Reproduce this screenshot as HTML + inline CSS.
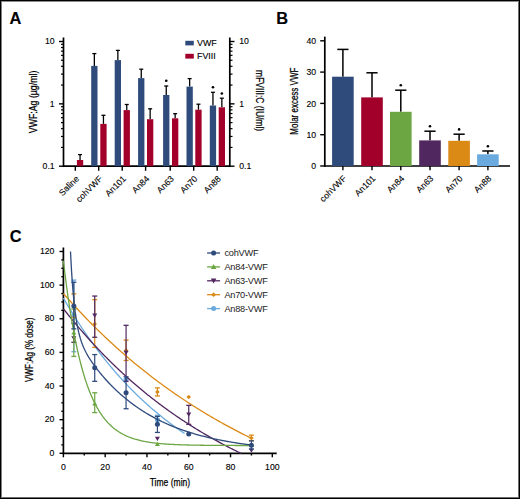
<!DOCTYPE html>
<html><head><meta charset="utf-8"><style>
html,body{margin:0;padding:0;background:#fff;}
body{width:520px;height:499px;overflow:hidden;}
.fr{position:absolute;left:0;top:0;width:520px;height:499px;box-sizing:border-box;border:1px solid #000;box-shadow:inset 1px 0 0 #808080,inset 0 1px 0 #8c8c8c,inset -1px 0 0 #6e6e6e,inset 0 -1px 0 #6e6e6e;}
svg{position:absolute;left:0;top:0;}
text{font-family:"Liberation Sans",sans-serif;fill:#000;stroke:#000;stroke-width:0.12px;}
.t{fill:#000;stroke:#000;stroke-width:0.25px;}
</style></head><body>
<svg width="520" height="499" viewBox="0 0 520 499">
<text x="9.6" y="23.9" font-size="16.4" font-weight="bold" fill="#000">A</text>
<line x1="63.50" y1="37.50" x2="63.50" y2="167.05" stroke="#000" stroke-width="1.7"/>
<line x1="63.50" y1="166.20" x2="229.80" y2="166.20" stroke="#000" stroke-width="1.7"/>
<line x1="229.80" y1="37.50" x2="229.80" y2="167.05" stroke="#000" stroke-width="1.7"/>
<line x1="59.00" y1="41.50" x2="63.50" y2="41.50" stroke="#000" stroke-width="1.4"/>
<line x1="229.80" y1="41.50" x2="234.50" y2="41.50" stroke="#000" stroke-width="1.4"/>
<line x1="59.00" y1="103.85" x2="63.50" y2="103.85" stroke="#000" stroke-width="1.4"/>
<line x1="229.80" y1="103.85" x2="234.50" y2="103.85" stroke="#000" stroke-width="1.4"/>
<line x1="59.00" y1="166.20" x2="63.50" y2="166.20" stroke="#000" stroke-width="1.4"/>
<line x1="229.80" y1="166.20" x2="234.50" y2="166.20" stroke="#000" stroke-width="1.4"/>
<line x1="61.00" y1="85.08" x2="63.50" y2="85.08" stroke="#000" stroke-width="1.2"/>
<line x1="229.80" y1="85.08" x2="232.50" y2="85.08" stroke="#000" stroke-width="1.2"/>
<line x1="61.00" y1="74.10" x2="63.50" y2="74.10" stroke="#000" stroke-width="1.2"/>
<line x1="229.80" y1="74.10" x2="232.50" y2="74.10" stroke="#000" stroke-width="1.2"/>
<line x1="61.00" y1="66.31" x2="63.50" y2="66.31" stroke="#000" stroke-width="1.2"/>
<line x1="229.80" y1="66.31" x2="232.50" y2="66.31" stroke="#000" stroke-width="1.2"/>
<line x1="61.00" y1="60.27" x2="63.50" y2="60.27" stroke="#000" stroke-width="1.2"/>
<line x1="229.80" y1="60.27" x2="232.50" y2="60.27" stroke="#000" stroke-width="1.2"/>
<line x1="61.00" y1="55.33" x2="63.50" y2="55.33" stroke="#000" stroke-width="1.2"/>
<line x1="229.80" y1="55.33" x2="232.50" y2="55.33" stroke="#000" stroke-width="1.2"/>
<line x1="61.00" y1="51.16" x2="63.50" y2="51.16" stroke="#000" stroke-width="1.2"/>
<line x1="229.80" y1="51.16" x2="232.50" y2="51.16" stroke="#000" stroke-width="1.2"/>
<line x1="61.00" y1="47.54" x2="63.50" y2="47.54" stroke="#000" stroke-width="1.2"/>
<line x1="229.80" y1="47.54" x2="232.50" y2="47.54" stroke="#000" stroke-width="1.2"/>
<line x1="61.00" y1="44.35" x2="63.50" y2="44.35" stroke="#000" stroke-width="1.2"/>
<line x1="229.80" y1="44.35" x2="232.50" y2="44.35" stroke="#000" stroke-width="1.2"/>
<line x1="61.00" y1="147.43" x2="63.50" y2="147.43" stroke="#000" stroke-width="1.2"/>
<line x1="229.80" y1="147.43" x2="232.50" y2="147.43" stroke="#000" stroke-width="1.2"/>
<line x1="61.00" y1="136.45" x2="63.50" y2="136.45" stroke="#000" stroke-width="1.2"/>
<line x1="229.80" y1="136.45" x2="232.50" y2="136.45" stroke="#000" stroke-width="1.2"/>
<line x1="61.00" y1="128.66" x2="63.50" y2="128.66" stroke="#000" stroke-width="1.2"/>
<line x1="229.80" y1="128.66" x2="232.50" y2="128.66" stroke="#000" stroke-width="1.2"/>
<line x1="61.00" y1="122.62" x2="63.50" y2="122.62" stroke="#000" stroke-width="1.2"/>
<line x1="229.80" y1="122.62" x2="232.50" y2="122.62" stroke="#000" stroke-width="1.2"/>
<line x1="61.00" y1="117.68" x2="63.50" y2="117.68" stroke="#000" stroke-width="1.2"/>
<line x1="229.80" y1="117.68" x2="232.50" y2="117.68" stroke="#000" stroke-width="1.2"/>
<line x1="61.00" y1="113.51" x2="63.50" y2="113.51" stroke="#000" stroke-width="1.2"/>
<line x1="229.80" y1="113.51" x2="232.50" y2="113.51" stroke="#000" stroke-width="1.2"/>
<line x1="61.00" y1="109.89" x2="63.50" y2="109.89" stroke="#000" stroke-width="1.2"/>
<line x1="229.80" y1="109.89" x2="232.50" y2="109.89" stroke="#000" stroke-width="1.2"/>
<line x1="61.00" y1="106.70" x2="63.50" y2="106.70" stroke="#000" stroke-width="1.2"/>
<line x1="229.80" y1="106.70" x2="232.50" y2="106.70" stroke="#000" stroke-width="1.2"/>
<text x="54.70" y="44.20" font-size="8.7" text-anchor="end" >10</text>
<text x="239.20" y="44.20" font-size="8.7" text-anchor="start" >10</text>
<text x="54.70" y="106.55" font-size="8.7" text-anchor="end" >1</text>
<text x="239.20" y="106.55" font-size="8.7" text-anchor="start" >1</text>
<text x="54.70" y="168.90" font-size="8.7" text-anchor="end" >0.1</text>
<text x="239.20" y="168.90" font-size="8.7" text-anchor="start" >0.1</text>
<line x1="75.30" y1="166.20" x2="75.30" y2="170.80" stroke="#000" stroke-width="1.4"/>
<line x1="98.70" y1="166.20" x2="98.70" y2="170.80" stroke="#000" stroke-width="1.4"/>
<line x1="122.20" y1="166.20" x2="122.20" y2="170.80" stroke="#000" stroke-width="1.4"/>
<line x1="145.60" y1="166.20" x2="145.60" y2="170.80" stroke="#000" stroke-width="1.4"/>
<line x1="170.20" y1="166.20" x2="170.20" y2="170.80" stroke="#000" stroke-width="1.4"/>
<line x1="193.70" y1="166.20" x2="193.70" y2="170.80" stroke="#000" stroke-width="1.4"/>
<line x1="217.20" y1="166.20" x2="217.20" y2="170.80" stroke="#000" stroke-width="1.4"/>
<text x="0" y="0" font-size="8.7" text-anchor="end" transform="translate(79.60,179.3) rotate(-45)">Saline</text>
<text x="0" y="0" font-size="8.7" text-anchor="end" transform="translate(103.00,179.3) rotate(-45)">cohVWF</text>
<text x="0" y="0" font-size="8.7" text-anchor="end" transform="translate(126.50,179.3) rotate(-45)">An101</text>
<text x="0" y="0" font-size="8.7" text-anchor="end" transform="translate(149.90,179.3) rotate(-45)">An84</text>
<text x="0" y="0" font-size="8.7" text-anchor="end" transform="translate(174.50,179.3) rotate(-45)">An63</text>
<text x="0" y="0" font-size="8.7" text-anchor="end" transform="translate(198.00,179.3) rotate(-45)">An70</text>
<text x="0" y="0" font-size="8.7" text-anchor="end" transform="translate(221.50,179.3) rotate(-45)">An88</text>
<line x1="80.05" y1="154.60" x2="80.05" y2="160.00" stroke="#000" stroke-width="1.3"/>
<line x1="78.05" y1="154.60" x2="82.05" y2="154.60" stroke="#000" stroke-width="1.3"/>
<rect x="76.90" y="160.00" width="6.30" height="6.20" fill="#a2002a"/>
<line x1="94.35" y1="53.60" x2="94.35" y2="65.90" stroke="#000" stroke-width="1.3"/>
<line x1="92.35" y1="53.60" x2="96.35" y2="53.60" stroke="#000" stroke-width="1.3"/>
<rect x="91.20" y="65.90" width="6.30" height="100.30" fill="#2e4b7c"/>
<line x1="103.45" y1="115.30" x2="103.45" y2="123.90" stroke="#000" stroke-width="1.3"/>
<line x1="101.45" y1="115.30" x2="105.45" y2="115.30" stroke="#000" stroke-width="1.3"/>
<rect x="100.30" y="123.90" width="6.30" height="42.30" fill="#a2002a"/>
<line x1="117.85" y1="50.40" x2="117.85" y2="60.10" stroke="#000" stroke-width="1.3"/>
<line x1="115.85" y1="50.40" x2="119.85" y2="50.40" stroke="#000" stroke-width="1.3"/>
<rect x="114.70" y="60.10" width="6.30" height="106.10" fill="#2e4b7c"/>
<line x1="126.75" y1="104.50" x2="126.75" y2="110.10" stroke="#000" stroke-width="1.3"/>
<line x1="124.75" y1="104.50" x2="128.75" y2="104.50" stroke="#000" stroke-width="1.3"/>
<rect x="123.60" y="110.10" width="6.30" height="56.10" fill="#a2002a"/>
<line x1="141.25" y1="69.20" x2="141.25" y2="78.10" stroke="#000" stroke-width="1.3"/>
<line x1="139.25" y1="69.20" x2="143.25" y2="69.20" stroke="#000" stroke-width="1.3"/>
<rect x="138.10" y="78.10" width="6.30" height="88.10" fill="#2e4b7c"/>
<line x1="150.15" y1="108.80" x2="150.15" y2="119.20" stroke="#000" stroke-width="1.3"/>
<line x1="148.15" y1="108.80" x2="152.15" y2="108.80" stroke="#000" stroke-width="1.3"/>
<rect x="147.00" y="119.20" width="6.30" height="47.00" fill="#a2002a"/>
<line x1="166.25" y1="86.00" x2="166.25" y2="95.00" stroke="#000" stroke-width="1.3"/>
<line x1="164.25" y1="86.00" x2="168.25" y2="86.00" stroke="#000" stroke-width="1.3"/>
<rect x="163.10" y="95.00" width="6.30" height="71.20" fill="#2e4b7c"/>
<line x1="175.15" y1="113.70" x2="175.15" y2="118.30" stroke="#000" stroke-width="1.3"/>
<line x1="173.15" y1="113.70" x2="177.15" y2="113.70" stroke="#000" stroke-width="1.3"/>
<rect x="172.00" y="118.30" width="6.30" height="47.90" fill="#a2002a"/>
<line x1="189.65" y1="78.60" x2="189.65" y2="86.60" stroke="#000" stroke-width="1.3"/>
<line x1="187.65" y1="78.60" x2="191.65" y2="78.60" stroke="#000" stroke-width="1.3"/>
<rect x="186.50" y="86.60" width="6.30" height="79.60" fill="#2e4b7c"/>
<line x1="198.45" y1="104.20" x2="198.45" y2="109.70" stroke="#000" stroke-width="1.3"/>
<line x1="196.45" y1="104.20" x2="200.45" y2="104.20" stroke="#000" stroke-width="1.3"/>
<rect x="195.30" y="109.70" width="6.30" height="56.50" fill="#a2002a"/>
<line x1="212.95" y1="92.30" x2="212.95" y2="105.50" stroke="#000" stroke-width="1.3"/>
<line x1="210.95" y1="92.30" x2="214.95" y2="92.30" stroke="#000" stroke-width="1.3"/>
<rect x="209.80" y="105.50" width="6.30" height="60.70" fill="#2e4b7c"/>
<line x1="221.85" y1="98.20" x2="221.85" y2="107.30" stroke="#000" stroke-width="1.3"/>
<line x1="219.85" y1="98.20" x2="223.85" y2="98.20" stroke="#000" stroke-width="1.3"/>
<rect x="218.70" y="107.30" width="6.30" height="58.90" fill="#a2002a"/>
<circle cx="166.25" cy="80.80" r="1.3" fill="#000"/>
<circle cx="212.95" cy="87.20" r="1.3" fill="#000"/>
<circle cx="221.85" cy="93.50" r="1.3" fill="#000"/>
<rect x="185.30" y="40.80" width="8.50" height="4.60" fill="#2e4b7c"/>
<text x="197.00" y="45.80" font-size="8.9" text-anchor="start" >VWF</text>
<rect x="185.30" y="53.80" width="8.50" height="4.80" fill="#a2002a"/>
<text x="197.00" y="58.70" font-size="8.9" text-anchor="start" >FVIII</text>
<text class="t" x="0" y="0" font-size="11" text-anchor="middle" textLength="62.5" lengthAdjust="spacingAndGlyphs" transform="translate(37.2,101.9) rotate(-90)">VWF:Ag (µg/ml)</text>
<text class="t" x="0" y="0" font-size="11" text-anchor="middle" textLength="61" lengthAdjust="spacingAndGlyphs" transform="translate(255.9,100.6) rotate(90)">mFVIII:C (IU/ml)</text>
<text x="276.2" y="23.9" font-size="16.4" font-weight="bold" fill="#000">B</text>
<line x1="324.80" y1="36.60" x2="324.80" y2="166.85" stroke="#000" stroke-width="1.7"/>
<line x1="324.80" y1="166.00" x2="510.00" y2="166.00" stroke="#000" stroke-width="1.7"/>
<line x1="320.20" y1="166.00" x2="324.80" y2="166.00" stroke="#000" stroke-width="1.4"/>
<text x="316.20" y="169.10" font-size="8.7" text-anchor="end" >0</text>
<line x1="320.20" y1="134.70" x2="324.80" y2="134.70" stroke="#000" stroke-width="1.4"/>
<text x="316.20" y="137.80" font-size="8.7" text-anchor="end" >10</text>
<line x1="320.20" y1="103.40" x2="324.80" y2="103.40" stroke="#000" stroke-width="1.4"/>
<text x="316.20" y="106.50" font-size="8.7" text-anchor="end" >20</text>
<line x1="320.20" y1="72.10" x2="324.80" y2="72.10" stroke="#000" stroke-width="1.4"/>
<text x="316.20" y="75.20" font-size="8.7" text-anchor="end" >30</text>
<line x1="320.20" y1="40.80" x2="324.80" y2="40.80" stroke="#000" stroke-width="1.4"/>
<text x="316.20" y="43.90" font-size="8.7" text-anchor="end" >40</text>
<line x1="342.90" y1="49.40" x2="342.90" y2="76.70" stroke="#000" stroke-width="1.5"/>
<line x1="337.30" y1="49.40" x2="348.50" y2="49.40" stroke="#000" stroke-width="1.5"/>
<rect x="332.10" y="76.70" width="21.60" height="89.30" fill="#2e4b7c"/>
<line x1="342.90" y1="166.00" x2="342.90" y2="170.30" stroke="#000" stroke-width="1.4"/>
<line x1="372.00" y1="72.80" x2="372.00" y2="97.40" stroke="#000" stroke-width="1.5"/>
<line x1="366.40" y1="72.80" x2="377.60" y2="72.80" stroke="#000" stroke-width="1.5"/>
<rect x="361.20" y="97.40" width="21.60" height="68.60" fill="#a2002a"/>
<line x1="372.00" y1="166.00" x2="372.00" y2="170.30" stroke="#000" stroke-width="1.4"/>
<line x1="400.80" y1="90.20" x2="400.80" y2="111.80" stroke="#000" stroke-width="1.5"/>
<line x1="395.20" y1="90.20" x2="406.40" y2="90.20" stroke="#000" stroke-width="1.5"/>
<rect x="390.00" y="111.80" width="21.60" height="54.20" fill="#6ca643"/>
<line x1="400.80" y1="166.00" x2="400.80" y2="170.30" stroke="#000" stroke-width="1.4"/>
<circle cx="400.80" cy="85.30" r="1.3" fill="#000"/>
<line x1="430.00" y1="131.20" x2="430.00" y2="140.40" stroke="#000" stroke-width="1.5"/>
<line x1="424.40" y1="131.20" x2="435.60" y2="131.20" stroke="#000" stroke-width="1.5"/>
<rect x="419.20" y="140.40" width="21.60" height="25.60" fill="#512760"/>
<line x1="430.00" y1="166.00" x2="430.00" y2="170.30" stroke="#000" stroke-width="1.4"/>
<circle cx="430.00" cy="126.30" r="1.3" fill="#000"/>
<line x1="459.10" y1="134.20" x2="459.10" y2="140.80" stroke="#000" stroke-width="1.5"/>
<line x1="453.50" y1="134.20" x2="464.70" y2="134.20" stroke="#000" stroke-width="1.5"/>
<rect x="448.30" y="140.80" width="21.60" height="25.20" fill="#db8a16"/>
<line x1="459.10" y1="166.00" x2="459.10" y2="170.30" stroke="#000" stroke-width="1.4"/>
<circle cx="459.10" cy="129.40" r="1.3" fill="#000"/>
<line x1="487.90" y1="151.00" x2="487.90" y2="154.30" stroke="#000" stroke-width="1.5"/>
<line x1="482.30" y1="151.00" x2="493.50" y2="151.00" stroke="#000" stroke-width="1.5"/>
<rect x="477.10" y="154.30" width="21.60" height="11.70" fill="#6aaade"/>
<line x1="487.90" y1="166.00" x2="487.90" y2="170.30" stroke="#000" stroke-width="1.4"/>
<circle cx="487.90" cy="146.20" r="1.3" fill="#000"/>
<text x="0" y="0" font-size="8.7" text-anchor="end" transform="translate(346.90,179.0) rotate(-45)">cohVWF</text>
<text x="0" y="0" font-size="8.7" text-anchor="end" transform="translate(376.00,179.0) rotate(-45)">An101</text>
<text x="0" y="0" font-size="8.7" text-anchor="end" transform="translate(404.80,179.0) rotate(-45)">An84</text>
<text x="0" y="0" font-size="8.7" text-anchor="end" transform="translate(434.00,179.0) rotate(-45)">An63</text>
<text x="0" y="0" font-size="8.7" text-anchor="end" transform="translate(463.10,179.0) rotate(-45)">An70</text>
<text x="0" y="0" font-size="8.7" text-anchor="end" transform="translate(491.90,179.0) rotate(-45)">An88</text>
<text class="t" x="0" y="0" font-size="11" text-anchor="middle" textLength="67" lengthAdjust="spacingAndGlyphs" transform="translate(297.6,101.2) rotate(-90)">Molar excess VWF</text>
<text x="9.8" y="242.3" font-size="16.4" font-weight="bold" fill="#000">C</text>
<line x1="63.40" y1="247.50" x2="63.40" y2="454.15" stroke="#000" stroke-width="1.7"/>
<line x1="62.55" y1="453.30" x2="276.70" y2="453.30" stroke="#000" stroke-width="1.7"/>
<line x1="59.50" y1="453.30" x2="63.40" y2="453.30" stroke="#000" stroke-width="1.4"/>
<text x="54.40" y="455.90" font-size="8.7" text-anchor="end" >0</text>
<line x1="61.20" y1="444.89" x2="63.40" y2="444.89" stroke="#000" stroke-width="1.2"/>
<line x1="61.20" y1="436.48" x2="63.40" y2="436.48" stroke="#000" stroke-width="1.2"/>
<line x1="61.20" y1="428.07" x2="63.40" y2="428.07" stroke="#000" stroke-width="1.2"/>
<line x1="59.50" y1="419.67" x2="63.40" y2="419.67" stroke="#000" stroke-width="1.4"/>
<text x="54.40" y="422.27" font-size="8.7" text-anchor="end" >20</text>
<line x1="61.20" y1="411.26" x2="63.40" y2="411.26" stroke="#000" stroke-width="1.2"/>
<line x1="61.20" y1="402.85" x2="63.40" y2="402.85" stroke="#000" stroke-width="1.2"/>
<line x1="61.20" y1="394.44" x2="63.40" y2="394.44" stroke="#000" stroke-width="1.2"/>
<line x1="59.50" y1="386.03" x2="63.40" y2="386.03" stroke="#000" stroke-width="1.4"/>
<text x="54.40" y="388.63" font-size="8.7" text-anchor="end" >40</text>
<line x1="61.20" y1="377.62" x2="63.40" y2="377.62" stroke="#000" stroke-width="1.2"/>
<line x1="61.20" y1="369.22" x2="63.40" y2="369.22" stroke="#000" stroke-width="1.2"/>
<line x1="61.20" y1="360.81" x2="63.40" y2="360.81" stroke="#000" stroke-width="1.2"/>
<line x1="59.50" y1="352.40" x2="63.40" y2="352.40" stroke="#000" stroke-width="1.4"/>
<text x="54.40" y="355.00" font-size="8.7" text-anchor="end" >60</text>
<line x1="61.20" y1="343.99" x2="63.40" y2="343.99" stroke="#000" stroke-width="1.2"/>
<line x1="61.20" y1="335.58" x2="63.40" y2="335.58" stroke="#000" stroke-width="1.2"/>
<line x1="61.20" y1="327.17" x2="63.40" y2="327.17" stroke="#000" stroke-width="1.2"/>
<line x1="59.50" y1="318.76" x2="63.40" y2="318.76" stroke="#000" stroke-width="1.4"/>
<text x="54.40" y="321.36" font-size="8.7" text-anchor="end" >80</text>
<line x1="61.20" y1="310.36" x2="63.40" y2="310.36" stroke="#000" stroke-width="1.2"/>
<line x1="61.20" y1="301.95" x2="63.40" y2="301.95" stroke="#000" stroke-width="1.2"/>
<line x1="61.20" y1="293.54" x2="63.40" y2="293.54" stroke="#000" stroke-width="1.2"/>
<line x1="59.50" y1="285.13" x2="63.40" y2="285.13" stroke="#000" stroke-width="1.4"/>
<text x="54.40" y="287.73" font-size="8.7" text-anchor="end" >100</text>
<line x1="61.20" y1="276.72" x2="63.40" y2="276.72" stroke="#000" stroke-width="1.2"/>
<line x1="61.20" y1="268.31" x2="63.40" y2="268.31" stroke="#000" stroke-width="1.2"/>
<line x1="61.20" y1="259.90" x2="63.40" y2="259.90" stroke="#000" stroke-width="1.2"/>
<line x1="59.50" y1="251.50" x2="63.40" y2="251.50" stroke="#000" stroke-width="1.4"/>
<text x="54.40" y="254.10" font-size="8.7" text-anchor="end" >120</text>
<line x1="63.40" y1="453.30" x2="63.40" y2="457.30" stroke="#000" stroke-width="1.4"/>
<text x="63.40" y="470.30" font-size="8.7" text-anchor="middle" >0</text>
<line x1="84.29" y1="453.30" x2="84.29" y2="455.50" stroke="#000" stroke-width="1.4"/>
<line x1="105.18" y1="453.30" x2="105.18" y2="457.30" stroke="#000" stroke-width="1.4"/>
<text x="105.18" y="470.30" font-size="8.7" text-anchor="middle" >20</text>
<line x1="126.07" y1="453.30" x2="126.07" y2="455.50" stroke="#000" stroke-width="1.4"/>
<line x1="146.96" y1="453.30" x2="146.96" y2="457.30" stroke="#000" stroke-width="1.4"/>
<text x="146.96" y="470.30" font-size="8.7" text-anchor="middle" >40</text>
<line x1="167.85" y1="453.30" x2="167.85" y2="455.50" stroke="#000" stroke-width="1.4"/>
<line x1="188.74" y1="453.30" x2="188.74" y2="457.30" stroke="#000" stroke-width="1.4"/>
<text x="188.74" y="470.30" font-size="8.7" text-anchor="middle" >60</text>
<line x1="209.63" y1="453.30" x2="209.63" y2="455.50" stroke="#000" stroke-width="1.4"/>
<line x1="230.52" y1="453.30" x2="230.52" y2="457.30" stroke="#000" stroke-width="1.4"/>
<text x="230.52" y="470.30" font-size="8.7" text-anchor="middle" >80</text>
<line x1="251.41" y1="453.30" x2="251.41" y2="455.50" stroke="#000" stroke-width="1.4"/>
<line x1="272.30" y1="453.30" x2="272.30" y2="457.30" stroke="#000" stroke-width="1.4"/>
<text x="272.30" y="470.30" font-size="8.7" text-anchor="middle" >100</text>
<text x="169.95" y="486.10" font-size="11" text-anchor="middle" class="t" textLength="40.5" lengthAdjust="spacingAndGlyphs">Time (min)</text>
<text class="t" x="0" y="0" font-size="11" text-anchor="middle" textLength="64.5" lengthAdjust="spacingAndGlyphs" transform="translate(32.5,349.75) rotate(-90)">VWF:Ag (% dose)</text>
<path d="M63.40,298.10 L64.01,299.15 L64.62,300.20 L65.23,301.25 L65.84,302.28 L66.44,303.32 L67.05,304.35 L67.66,305.37 L68.27,306.39 L68.88,307.40 L69.49,308.41 L70.10,309.41 L70.71,310.41 L71.32,311.41 L71.92,312.40 L72.53,313.38 L73.14,314.36 L73.75,315.34 L74.36,316.31 L74.97,317.27 L75.58,318.24 L76.19,319.19 L76.79,320.14 L77.40,321.09 L78.01,322.04 L78.62,322.97 L79.23,323.91 L79.84,324.84 L80.45,325.76 L81.06,326.69 L81.67,327.60 L82.27,328.51 L82.88,329.42 L83.49,330.33 L84.10,331.22 L84.71,332.12 L85.32,333.01 L85.93,333.90 L86.54,334.78 L87.15,335.66 L87.75,336.53 L88.36,337.40 L88.97,338.26 L89.58,339.13 L90.19,339.98 L90.80,340.84 L91.41,341.68 L92.02,342.53 L92.63,343.37 L93.23,344.21 L93.84,345.04 L94.45,345.87 L95.06,346.69 L95.67,347.51 L96.28,348.33 L96.89,349.14 L97.50,349.95 L98.10,350.76 L98.71,351.56 L99.32,352.36 L99.93,353.15 L100.54,353.94 L101.15,354.73 L101.76,355.51 L102.37,356.29 L102.98,357.06 L103.58,357.84 L104.19,358.60 L104.80,359.37 L105.41,360.13 L106.02,360.88 L106.63,361.64 L107.24,362.39 L107.85,363.13 L108.46,363.87 L109.06,364.61 L109.67,365.35 L110.28,366.08 L110.89,366.81 L111.50,367.53 L112.11,368.25 L112.72,368.97 L113.33,369.69 L113.93,370.40 L114.54,371.11 L115.15,371.81 L115.76,372.51 L116.37,373.21 L116.98,373.90 L117.59,374.59 L118.20,375.28 L118.81,375.96 L119.41,376.65 L120.02,377.32 L120.63,378.00 L121.24,378.67 L121.85,379.34 L122.46,380.00 L123.07,380.66 L123.68,381.32 L124.29,381.98 L124.89,382.63 L125.50,383.28 L126.11,383.92 L126.72,384.57 L127.33,385.21 L127.94,385.84 L128.55,386.48 L129.16,387.11 L129.77,387.74 L130.37,388.36 L130.98,388.98 L131.59,389.60 L132.20,390.22 L132.81,390.83 L133.42,391.44 L134.03,392.05 L134.64,392.65 L135.24,393.25 L135.85,393.85 L136.46,394.44 L137.07,395.04 L137.68,395.63 L138.29,396.21 L138.90,396.80 L139.51,397.38 L140.12,397.96 L140.72,398.53 L141.33,399.11 L141.94,399.68 L142.55,400.24 L143.16,400.81 L143.77,401.37 L144.38,401.93 L144.99,402.49 L145.60,403.04 L146.20,403.59 L146.81,404.14 L147.42,404.69 L148.03,405.23 L148.64,405.77 L149.25,406.31 L149.86,406.85 L150.47,407.38 L151.08,407.91 L151.68,408.44 L152.29,408.96 L152.90,409.49 L153.51,410.01 L154.12,410.53 L154.73,411.04 L155.34,411.56 L155.95,412.07 L156.55,412.57 L157.16,413.08 L157.77,413.58 L158.38,414.09 L158.99,414.58 L159.60,415.08 L160.21,415.57 L160.82,416.07 L161.43,416.55 L162.03,417.04 L162.64,417.53 L163.25,418.01 L163.86,418.49 L164.47,418.97 L165.08,419.44 L165.69,419.91 L166.30,420.39 L166.91,420.85 L167.51,421.32 L168.12,421.78 L168.73,422.25 L169.34,422.71 L169.95,423.16 L170.56,423.62 L171.17,424.07 L171.78,424.52 L172.38,424.97 L172.99,425.42 L173.60,425.86 L174.21,426.30 L174.82,426.74 L175.43,427.18 L176.04,427.62 L176.65,428.05 L177.26,428.48 L177.86,428.91 L178.47,429.34 L179.08,429.77 L179.69,430.19 L180.30,430.61 L180.91,431.03 L181.52,431.45 L182.13,431.87 L182.74,432.28 L183.34,432.69 L183.95,433.10 L184.56,433.51" fill="none" stroke="#6aaade" stroke-width="1.3"/>
<line x1="73.84" y1="280.08" x2="73.84" y2="351.73" stroke="#6aaade" stroke-width="1.2"/>
<line x1="71.34" y1="280.08" x2="76.34" y2="280.08" stroke="#6aaade" stroke-width="1.3"/>
<line x1="71.34" y1="351.73" x2="76.34" y2="351.73" stroke="#6aaade" stroke-width="1.3"/>
<circle cx="73.84" cy="315.57" r="2.5" fill="#6aaade"/>
<circle cx="126.07" cy="379.31" r="2.5" fill="#6aaade"/>
<line x1="157.41" y1="415.29" x2="157.41" y2="424.71" stroke="#6aaade" stroke-width="1.2"/>
<line x1="154.91" y1="415.29" x2="159.91" y2="415.29" stroke="#6aaade" stroke-width="1.3"/>
<line x1="154.91" y1="424.71" x2="159.91" y2="424.71" stroke="#6aaade" stroke-width="1.3"/>
<circle cx="157.41" cy="419.67" r="2.5" fill="#6aaade"/>
<path d="M63.40,293.55 L64.34,294.63 L65.29,295.71 L66.23,296.78 L67.18,297.84 L68.12,298.91 L69.07,299.96 L70.01,301.01 L70.96,302.06 L71.90,303.10 L72.85,304.14 L73.79,305.18 L74.74,306.21 L75.68,307.23 L76.63,308.25 L77.57,309.27 L78.52,310.28 L79.46,311.29 L80.41,312.29 L81.35,313.29 L82.30,314.29 L83.24,315.28 L84.19,316.26 L85.13,317.24 L86.07,318.22 L87.02,319.20 L87.96,320.17 L88.91,321.13 L89.85,322.09 L90.80,323.05 L91.74,324.00 L92.69,324.95 L93.63,325.90 L94.58,326.84 L95.52,327.77 L96.47,328.71 L97.41,329.64 L98.36,330.56 L99.30,331.48 L100.25,332.40 L101.19,333.31 L102.14,334.22 L103.08,335.13 L104.03,336.03 L104.97,336.92 L105.91,337.82 L106.86,338.71 L107.80,339.59 L108.75,340.48 L109.69,341.35 L110.64,342.23 L111.58,343.10 L112.53,343.97 L113.47,344.83 L114.42,345.69 L115.36,346.55 L116.31,347.40 L117.25,348.25 L118.20,349.09 L119.14,349.93 L120.09,350.77 L121.03,351.61 L121.98,352.44 L122.92,353.26 L123.87,354.09 L124.81,354.91 L125.76,355.72 L126.70,356.54 L127.64,357.35 L128.59,358.15 L129.53,358.96 L130.48,359.76 L131.42,360.55 L132.37,361.34 L133.31,362.13 L134.26,362.92 L135.20,363.70 L136.15,364.48 L137.09,365.25 L138.04,366.03 L138.98,366.80 L139.93,367.56 L140.87,368.32 L141.82,369.08 L142.76,369.84 L143.71,370.59 L144.65,371.34 L145.60,372.09 L146.54,372.83 L147.48,373.57 L148.43,374.31 L149.37,375.04 L150.32,375.77 L151.26,376.50 L152.21,377.22 L153.15,377.94 L154.10,378.66 L155.04,379.38 L155.99,380.09 L156.93,380.80 L157.88,381.50 L158.82,382.20 L159.77,382.90 L160.71,383.60 L161.66,384.29 L162.60,384.99 L163.55,385.67 L164.49,386.36 L165.44,387.04 L166.38,387.72 L167.33,388.39 L168.27,389.07 L169.21,389.74 L170.16,390.41 L171.10,391.07 L172.05,391.73 L172.99,392.39 L173.94,393.05 L174.88,393.70 L175.83,394.35 L176.77,395.00 L177.72,395.64 L178.66,396.28 L179.61,396.92 L180.55,397.56 L181.50,398.19 L182.44,398.83 L183.39,399.45 L184.33,400.08 L185.28,400.70 L186.22,401.32 L187.17,401.94 L188.11,402.56 L189.05,403.17 L190.00,403.78 L190.94,404.39 L191.89,404.99 L192.83,405.59 L193.78,406.19 L194.72,406.79 L195.67,407.38 L196.61,407.98 L197.56,408.56 L198.50,409.15 L199.45,409.74 L200.39,410.32 L201.34,410.90 L202.28,411.47 L203.23,412.05 L204.17,412.62 L205.12,413.19 L206.06,413.76 L207.01,414.32 L207.95,414.88 L208.90,415.44 L209.84,416.00 L210.78,416.55 L211.73,417.11 L212.67,417.66 L213.62,418.20 L214.56,418.75 L215.51,419.29 L216.45,419.83 L217.40,420.37 L218.34,420.91 L219.29,421.44 L220.23,421.97 L221.18,422.50 L222.12,423.03 L223.07,423.56 L224.01,424.08 L224.96,424.60 L225.90,425.12 L226.85,425.63 L227.79,426.15 L228.74,426.66 L229.68,427.17 L230.62,427.67 L231.57,428.18 L232.51,428.68 L233.46,429.18 L234.40,429.68 L235.35,430.18 L236.29,430.67 L237.24,431.16 L238.18,431.65 L239.13,432.14 L240.07,432.63 L241.02,433.11 L241.96,433.59 L242.91,434.07 L243.85,434.55 L244.80,435.02 L245.74,435.50 L246.69,435.97 L247.63,436.44 L248.58,436.91 L249.52,437.37 L250.47,437.83 L251.41,438.30" fill="none" stroke="#db8a16" stroke-width="1.3"/>
<line x1="73.84" y1="293.87" x2="73.84" y2="317.59" stroke="#db8a16" stroke-width="1.2"/>
<line x1="71.34" y1="293.87" x2="76.34" y2="293.87" stroke="#db8a16" stroke-width="1.3"/>
<line x1="71.34" y1="317.59" x2="76.34" y2="317.59" stroke="#db8a16" stroke-width="1.3"/>
<polygon points="73.84,303.51 76.14,305.81 73.84,308.11 71.55,305.81" fill="#db8a16"/>
<line x1="94.73" y1="299.59" x2="94.73" y2="347.35" stroke="#db8a16" stroke-width="1.2"/>
<line x1="92.23" y1="299.59" x2="97.23" y2="299.59" stroke="#db8a16" stroke-width="1.3"/>
<line x1="92.23" y1="347.35" x2="97.23" y2="347.35" stroke="#db8a16" stroke-width="1.3"/>
<polygon points="94.73,321.68 97.03,323.98 94.73,326.28 92.44,323.98" fill="#db8a16"/>
<line x1="126.07" y1="340.12" x2="126.07" y2="360.47" stroke="#db8a16" stroke-width="1.2"/>
<line x1="123.57" y1="340.12" x2="128.57" y2="340.12" stroke="#db8a16" stroke-width="1.3"/>
<line x1="123.57" y1="360.47" x2="128.57" y2="360.47" stroke="#db8a16" stroke-width="1.3"/>
<polygon points="126.07,348.08 128.37,350.38 126.07,352.68 123.77,350.38" fill="#db8a16"/>
<line x1="157.41" y1="387.88" x2="157.41" y2="395.95" stroke="#db8a16" stroke-width="1.2"/>
<line x1="154.91" y1="387.88" x2="159.91" y2="387.88" stroke="#db8a16" stroke-width="1.3"/>
<line x1="154.91" y1="395.95" x2="159.91" y2="395.95" stroke="#db8a16" stroke-width="1.3"/>
<polygon points="157.41,389.62 159.71,391.92 157.41,394.22 155.10,391.92" fill="#db8a16"/>
<polygon points="188.74,394.66 191.04,396.96 188.74,399.26 186.44,396.96" fill="#db8a16"/>
<line x1="251.41" y1="435.14" x2="251.41" y2="440.69" stroke="#db8a16" stroke-width="1.2"/>
<line x1="248.91" y1="435.14" x2="253.91" y2="435.14" stroke="#db8a16" stroke-width="1.3"/>
<line x1="248.91" y1="440.69" x2="253.91" y2="440.69" stroke="#db8a16" stroke-width="1.3"/>
<polygon points="251.41,435.70 253.71,438.00 251.41,440.30 249.11,438.00" fill="#db8a16"/>
<path d="M63.40,308.74 L64.29,309.87 L65.18,311.00 L66.08,312.13 L66.97,313.25 L67.86,314.36 L68.75,315.47 L69.64,316.57 L70.54,317.67 L71.43,318.76 L72.32,319.84 L73.21,320.92 L74.10,322.00 L75.00,323.07 L75.89,324.13 L76.78,325.19 L77.67,326.25 L78.56,327.30 L79.46,328.34 L80.35,329.38 L81.24,330.41 L82.13,331.44 L83.02,332.47 L83.92,333.49 L84.81,334.50 L85.70,335.51 L86.59,336.51 L87.48,337.51 L88.38,338.51 L89.27,339.50 L90.16,340.48 L91.05,341.46 L91.94,342.43 L92.84,343.40 L93.73,344.37 L94.62,345.33 L95.51,346.29 L96.40,347.24 L97.30,348.18 L98.19,349.13 L99.08,350.06 L99.97,351.00 L100.86,351.92 L101.76,352.85 L102.65,353.77 L103.54,354.68 L104.43,355.59 L105.32,356.50 L106.22,357.40 L107.11,358.30 L108.00,359.19 L108.89,360.08 L109.78,360.96 L110.68,361.84 L111.57,362.72 L112.46,363.59 L113.35,364.45 L114.24,365.32 L115.14,366.17 L116.03,367.03 L116.92,367.88 L117.81,368.72 L118.70,369.56 L119.60,370.40 L120.49,371.23 L121.38,372.06 L122.27,372.89 L123.16,373.71 L124.06,374.53 L124.95,375.34 L125.84,376.15 L126.73,376.95 L127.62,377.76 L128.51,378.55 L129.41,379.35 L130.30,380.14 L131.19,380.92 L132.08,381.70 L132.97,382.48 L133.87,383.26 L134.76,384.03 L135.65,384.79 L136.54,385.55 L137.43,386.31 L138.33,387.07 L139.22,387.82 L140.11,388.57 L141.00,389.31 L141.89,390.05 L142.79,390.79 L143.68,391.52 L144.57,392.25 L145.46,392.98 L146.35,393.70 L147.25,394.42 L148.14,395.14 L149.03,395.85 L149.92,396.56 L150.81,397.26 L151.71,397.97 L152.60,398.67 L153.49,399.36 L154.38,400.05 L155.27,400.74 L156.17,401.42 L157.06,402.11 L157.95,402.78 L158.84,403.46 L159.73,404.13 L160.63,404.80 L161.52,405.46 L162.41,406.13 L163.30,406.78 L164.19,407.44 L165.09,408.09 L165.98,408.74 L166.87,409.39 L167.76,410.03 L168.65,410.67 L169.55,411.30 L170.44,411.94 L171.33,412.57 L172.22,413.19 L173.11,413.82 L174.01,414.44 L174.90,415.06 L175.79,415.67 L176.68,416.28 L177.57,416.89 L178.47,417.50 L179.36,418.10 L180.25,418.70 L181.14,419.30 L182.03,419.89 L182.93,420.48 L183.82,421.07 L184.71,421.66 L185.60,422.24 L186.49,422.82 L187.39,423.39 L188.28,423.97 L189.17,424.54 L190.06,425.11 L190.95,425.67 L191.85,426.24 L192.74,426.80 L193.63,427.35 L194.52,427.91 L195.41,428.46 L196.31,429.01 L197.20,429.56 L198.09,430.10 L198.98,430.64 L199.87,431.18 L200.77,431.71 L201.66,432.25 L202.55,432.78 L203.44,433.31 L204.33,433.83 L205.23,434.36 L206.12,434.88 L207.01,435.39 L207.90,435.91 L208.79,436.42 L209.69,436.93 L210.58,437.44 L211.47,437.94 L212.36,438.45 L213.25,438.95 L214.15,439.45 L215.04,439.94 L215.93,440.43 L216.82,440.92 L217.71,441.41 L218.61,441.90 L219.50,442.38 L220.39,442.86 L221.28,443.34 L222.17,443.82 L223.07,444.29 L223.96,444.76 L224.85,445.23 L225.74,445.70 L226.63,446.16 L227.53,446.63 L228.42,447.09 L229.31,447.55 L230.20,448.00 L231.09,448.46 L231.99,448.91 L232.88,449.36 L233.77,449.80 L234.66,450.25 L235.55,450.69 L236.45,451.13 L237.34,451.57 L238.23,452.00 L239.12,452.44 L240.01,452.87 L240.91,453.30" fill="none" stroke="#512760" stroke-width="1.3"/>
<line x1="73.84" y1="323.30" x2="73.84" y2="342.31" stroke="#512760" stroke-width="1.2"/>
<line x1="71.34" y1="323.30" x2="76.34" y2="323.30" stroke="#512760" stroke-width="1.3"/>
<line x1="71.34" y1="342.31" x2="76.34" y2="342.31" stroke="#512760" stroke-width="1.3"/>
<polygon points="71.34,336.23 76.34,336.23 73.84,340.48" fill="#512760"/>
<line x1="94.73" y1="296.06" x2="94.73" y2="337.26" stroke="#512760" stroke-width="1.2"/>
<line x1="92.23" y1="296.06" x2="97.23" y2="296.06" stroke="#512760" stroke-width="1.3"/>
<line x1="92.23" y1="337.26" x2="97.23" y2="337.26" stroke="#512760" stroke-width="1.3"/>
<polygon points="92.23,313.53 97.23,313.53 94.73,317.78" fill="#512760"/>
<line x1="126.07" y1="325.32" x2="126.07" y2="381.32" stroke="#512760" stroke-width="1.2"/>
<line x1="123.57" y1="325.32" x2="128.57" y2="325.32" stroke="#512760" stroke-width="1.3"/>
<line x1="123.57" y1="381.32" x2="128.57" y2="381.32" stroke="#512760" stroke-width="1.3"/>
<polygon points="123.57,350.86 128.57,350.86 126.07,355.11" fill="#512760"/>
<polygon points="154.91,436.63 159.91,436.63 157.41,440.88" fill="#512760"/>
<line x1="188.74" y1="405.37" x2="188.74" y2="424.37" stroke="#512760" stroke-width="1.2"/>
<line x1="186.24" y1="405.37" x2="191.24" y2="405.37" stroke="#512760" stroke-width="1.3"/>
<line x1="186.24" y1="424.37" x2="191.24" y2="424.37" stroke="#512760" stroke-width="1.3"/>
<polygon points="186.24,412.41 191.24,412.41 188.74,416.66" fill="#512760"/>
<polygon points="248.91,448.57 253.91,448.57 251.41,452.82" fill="#512760"/>
<path d="M63.40,260.74 L64.34,268.76 L65.29,276.43 L66.23,283.78 L67.18,290.80 L68.12,297.51 L69.07,303.94 L70.01,310.09 L70.96,315.97 L71.90,321.59 L72.85,326.97 L73.79,332.12 L74.74,337.04 L75.68,341.75 L76.63,346.25 L77.57,350.56 L78.52,354.69 L79.46,358.63 L80.41,362.40 L81.35,366.01 L82.30,369.46 L83.24,372.77 L84.19,375.92 L85.13,378.95 L86.07,381.84 L87.02,384.60 L87.96,387.25 L88.91,389.78 L89.85,392.20 L90.80,394.51 L91.74,396.73 L92.69,398.85 L93.63,400.87 L94.58,402.81 L95.52,404.67 L96.47,406.44 L97.41,408.14 L98.36,409.76 L99.30,411.31 L100.25,412.80 L101.19,414.22 L102.14,415.58 L103.08,416.88 L104.03,418.12 L104.97,419.31 L105.91,420.45 L106.86,421.54 L107.80,422.58 L108.75,423.58 L109.69,424.53 L110.64,425.44 L111.58,426.31 L112.53,427.15 L113.47,427.95 L114.42,428.71 L115.36,429.44 L116.31,430.14 L117.25,430.81 L118.20,431.45 L119.14,432.06 L120.09,432.64 L121.03,433.20 L121.98,433.74 L122.92,434.25 L123.87,434.74 L124.81,435.21 L125.76,435.66 L126.70,436.08 L127.64,436.49 L128.59,436.89 L129.53,437.26 L130.48,437.62 L131.42,437.97 L132.37,438.29 L133.31,438.61 L134.26,438.91 L135.20,439.20 L136.15,439.47 L137.09,439.73 L138.04,439.99 L138.98,440.23 L139.93,440.46 L140.87,440.68 L141.82,440.89 L142.76,441.09 L143.71,441.28 L144.65,441.47 L145.60,441.64 L146.54,441.81 L147.48,441.97 L148.43,442.13 L149.37,442.28 L150.32,442.42 L151.26,442.55 L152.21,442.68 L153.15,442.81 L154.10,442.92 L155.04,443.04 L155.99,443.15 L156.93,443.25 L157.88,443.35 L158.82,443.44 L159.77,443.53 L160.71,443.62 L161.66,443.70 L162.60,443.78 L163.55,443.86 L164.49,443.93 L165.44,444.00 L166.38,444.07 L167.33,444.13 L168.27,444.19 L169.21,444.25 L170.16,444.31 L171.10,444.36 L172.05,444.41 L172.99,444.46 L173.94,444.51 L174.88,444.55 L175.83,444.59 L176.77,444.63 L177.72,444.67 L178.66,444.71 L179.61,444.75 L180.55,444.78 L181.50,444.81 L182.44,444.84 L183.39,444.87 L184.33,444.90 L185.28,444.93 L186.22,444.96 L187.17,444.98 L188.11,445.01 L189.05,445.03 L190.00,445.05 L190.94,445.07 L191.89,445.09 L192.83,445.11 L193.78,445.13 L194.72,445.15 L195.67,445.16 L196.61,445.18 L197.56,445.19 L198.50,445.21 L199.45,445.22 L200.39,445.24 L201.34,445.25 L202.28,445.26 L203.23,445.27 L204.17,445.28 L205.12,445.30 L206.06,445.31 L207.01,445.32 L207.95,445.33 L208.90,445.33 L209.84,445.34 L210.78,445.35 L211.73,445.36 L212.67,445.37 L213.62,445.37 L214.56,445.38 L215.51,445.39 L216.45,445.39 L217.40,445.40 L218.34,445.41 L219.29,445.41 L220.23,445.42 L221.18,445.42 L222.12,445.43 L223.07,445.43 L224.01,445.44 L224.96,445.44 L225.90,445.44 L226.85,445.45 L227.79,445.45 L228.74,445.45 L229.68,445.46 L230.62,445.46 L231.57,445.46 L232.51,445.47 L233.46,445.47 L234.40,445.47 L235.35,445.48 L236.29,445.48 L237.24,445.48 L238.18,445.48 L239.13,445.49 L240.07,445.49 L241.02,445.49 L241.96,445.49 L242.91,445.49 L243.85,445.49 L244.80,445.50 L245.74,445.50 L246.69,445.50 L247.63,445.50 L248.58,445.50 L249.52,445.50 L250.47,445.50 L251.41,445.51" fill="none" stroke="#6ca643" stroke-width="1.3"/>
<line x1="73.84" y1="309.01" x2="73.84" y2="356.43" stroke="#6ca643" stroke-width="1.2"/>
<line x1="71.34" y1="309.01" x2="76.34" y2="309.01" stroke="#6ca643" stroke-width="1.3"/>
<line x1="71.34" y1="356.43" x2="76.34" y2="356.43" stroke="#6ca643" stroke-width="1.3"/>
<polygon points="71.34,334.60 76.34,334.60 73.84,330.35" fill="#6ca643"/>
<line x1="94.73" y1="392.76" x2="94.73" y2="412.60" stroke="#6ca643" stroke-width="1.2"/>
<line x1="92.23" y1="392.76" x2="97.23" y2="392.76" stroke="#6ca643" stroke-width="1.3"/>
<line x1="92.23" y1="412.60" x2="97.23" y2="412.60" stroke="#6ca643" stroke-width="1.3"/>
<polygon points="92.23,405.40 97.23,405.40 94.73,401.15" fill="#6ca643"/>
<polygon points="154.91,445.93 159.91,445.93 157.41,441.68" fill="#6ca643"/>
<polygon points="248.91,447.10 253.91,447.10 251.41,442.85" fill="#6ca643"/>
<path d="M70.49,251.50 L71.40,268.46 L72.31,282.36 L73.22,293.80 L74.13,303.27 L75.04,311.15 L75.95,317.76 L76.86,323.34 L77.77,328.11 L78.67,332.20 L79.58,335.77 L80.49,338.90 L81.40,341.69 L82.31,344.19 L83.22,346.46 L84.13,348.54 L85.04,350.47 L85.95,352.27 L86.86,353.96 L87.77,355.57 L88.67,357.10 L89.58,358.57 L90.49,359.99 L91.40,361.36 L92.31,362.69 L93.22,363.99 L94.13,365.26 L95.04,366.49 L95.95,367.71 L96.86,368.90 L97.77,370.06 L98.68,371.21 L99.58,372.34 L100.49,373.45 L101.40,374.54 L102.31,375.61 L103.22,376.67 L104.13,377.72 L105.04,378.75 L105.95,379.76 L106.86,380.76 L107.77,381.75 L108.68,382.72 L109.59,383.68 L110.49,384.62 L111.40,385.55 L112.31,386.47 L113.22,387.38 L114.13,388.27 L115.04,389.16 L115.95,390.03 L116.86,390.89 L117.77,391.73 L118.68,392.57 L119.59,393.39 L120.49,394.20 L121.40,395.01 L122.31,395.80 L123.22,396.58 L124.13,397.34 L125.04,398.10 L125.95,398.85 L126.86,399.59 L127.77,400.32 L128.68,401.04 L129.59,401.75 L130.50,402.45 L131.40,403.14 L132.31,403.82 L133.22,404.49 L134.13,405.15 L135.04,405.80 L135.95,406.45 L136.86,407.08 L137.77,407.71 L138.68,408.33 L139.59,408.94 L140.50,409.54 L141.40,410.13 L142.31,410.72 L143.22,411.29 L144.13,411.86 L145.04,412.43 L145.95,412.98 L146.86,413.53 L147.77,414.07 L148.68,414.60 L149.59,415.12 L150.50,415.64 L151.41,416.15 L152.31,416.66 L153.22,417.15 L154.13,417.64 L155.04,418.13 L155.95,418.60 L156.86,419.07 L157.77,419.54 L158.68,420.00 L159.59,420.45 L160.50,420.89 L161.41,421.33 L162.31,421.77 L163.22,422.19 L164.13,422.62 L165.04,423.03 L165.95,423.44 L166.86,423.85 L167.77,424.25 L168.68,424.64 L169.59,425.03 L170.50,425.41 L171.41,425.79 L172.32,426.16 L173.22,426.53 L174.13,426.89 L175.04,427.25 L175.95,427.61 L176.86,427.95 L177.77,428.30 L178.68,428.64 L179.59,428.97 L180.50,429.30 L181.41,429.63 L182.32,429.95 L183.22,430.27 L184.13,430.58 L185.04,430.89 L185.95,431.19 L186.86,431.49 L187.77,431.79 L188.68,432.08 L189.59,432.36 L190.50,432.65 L191.41,432.93 L192.32,433.21 L193.23,433.48 L194.13,433.75 L195.04,434.01 L195.95,434.27 L196.86,434.53 L197.77,434.79 L198.68,435.04 L199.59,435.28 L200.50,435.53 L201.41,435.77 L202.32,436.01 L203.23,436.24 L204.14,436.47 L205.04,436.70 L205.95,436.93 L206.86,437.15 L207.77,437.37 L208.68,437.58 L209.59,437.80 L210.50,438.01 L211.41,438.21 L212.32,438.42 L213.23,438.62 L214.14,438.82 L215.04,439.02 L215.95,439.21 L216.86,439.40 L217.77,439.59 L218.68,439.78 L219.59,439.96 L220.50,440.14 L221.41,440.32 L222.32,440.49 L223.23,440.67 L224.14,440.84 L225.05,441.01 L225.95,441.18 L226.86,441.34 L227.77,441.50 L228.68,441.66 L229.59,441.82 L230.50,441.98 L231.41,442.13 L232.32,442.28 L233.23,442.43 L234.14,442.58 L235.05,442.72 L235.95,442.87 L236.86,443.01 L237.77,443.15 L238.68,443.28 L239.59,443.42 L240.50,443.55 L241.41,443.69 L242.32,443.82 L243.23,443.95 L244.14,444.07 L245.05,444.20 L245.96,444.32 L246.86,444.44 L247.77,444.56 L248.68,444.68 L249.59,444.80 L250.50,444.91 L251.41,445.03" fill="none" stroke="#2e4b7c" stroke-width="1.3"/>
<line x1="73.84" y1="282.27" x2="73.84" y2="328.85" stroke="#2e4b7c" stroke-width="1.2"/>
<line x1="71.34" y1="282.27" x2="76.34" y2="282.27" stroke="#2e4b7c" stroke-width="1.3"/>
<line x1="71.34" y1="328.85" x2="76.34" y2="328.85" stroke="#2e4b7c" stroke-width="1.3"/>
<circle cx="73.84" cy="305.98" r="2.5" fill="#2e4b7c"/>
<line x1="94.73" y1="354.58" x2="94.73" y2="381.32" stroke="#2e4b7c" stroke-width="1.2"/>
<line x1="92.23" y1="354.58" x2="97.23" y2="354.58" stroke="#2e4b7c" stroke-width="1.3"/>
<line x1="92.23" y1="381.32" x2="97.23" y2="381.32" stroke="#2e4b7c" stroke-width="1.3"/>
<circle cx="94.73" cy="367.87" r="2.5" fill="#2e4b7c"/>
<line x1="126.07" y1="376.78" x2="126.07" y2="408.73" stroke="#2e4b7c" stroke-width="1.2"/>
<line x1="123.57" y1="376.78" x2="128.57" y2="376.78" stroke="#2e4b7c" stroke-width="1.3"/>
<line x1="123.57" y1="408.73" x2="128.57" y2="408.73" stroke="#2e4b7c" stroke-width="1.3"/>
<circle cx="126.07" cy="392.76" r="2.5" fill="#2e4b7c"/>
<line x1="157.41" y1="416.37" x2="157.41" y2="432.45" stroke="#2e4b7c" stroke-width="1.2"/>
<line x1="154.91" y1="416.37" x2="159.91" y2="416.37" stroke="#2e4b7c" stroke-width="1.3"/>
<line x1="154.91" y1="432.45" x2="159.91" y2="432.45" stroke="#2e4b7c" stroke-width="1.3"/>
<circle cx="157.41" cy="424.37" r="2.5" fill="#2e4b7c"/>
<circle cx="188.74" cy="433.96" r="2.5" fill="#2e4b7c"/>
<line x1="251.41" y1="440.86" x2="251.41" y2="449.10" stroke="#2e4b7c" stroke-width="1.2"/>
<line x1="248.91" y1="440.86" x2="253.91" y2="440.86" stroke="#2e4b7c" stroke-width="1.3"/>
<line x1="248.91" y1="449.10" x2="253.91" y2="449.10" stroke="#2e4b7c" stroke-width="1.3"/>
<circle cx="251.41" cy="445.23" r="2.5" fill="#2e4b7c"/>
<line x1="207.10" y1="253.00" x2="220.10" y2="253.00" stroke="#2e4b7c" stroke-width="1.3"/>
<circle cx="213.6" cy="253.00" r="2.5" fill="#2e4b7c"/>
<text x="224.40" y="256.30" font-size="9.2" text-anchor="start" style="stroke-width:0;fill:#222;letter-spacing:-0.22px">cohVWF</text>
<line x1="207.10" y1="266.90" x2="220.10" y2="266.90" stroke="#6ca643" stroke-width="1.3"/>
<polygon points="210.80,269.10 216.40,269.10 213.60,264.10" fill="#6ca643"/>
<text x="224.40" y="270.20" font-size="9.2" text-anchor="start" style="stroke-width:0;fill:#222;letter-spacing:-0.22px">An84-VWF</text>
<line x1="207.10" y1="280.80" x2="220.10" y2="280.80" stroke="#512760" stroke-width="1.3"/>
<polygon points="210.80,278.60 216.40,278.60 213.60,283.60" fill="#512760"/>
<text x="224.40" y="284.10" font-size="9.2" text-anchor="start" style="stroke-width:0;fill:#222;letter-spacing:-0.22px">An63-VWF</text>
<line x1="207.10" y1="294.70" x2="220.10" y2="294.70" stroke="#db8a16" stroke-width="1.3"/>
<polygon points="213.60,292.30 216.00,294.70 213.60,297.10 211.20,294.70" fill="#db8a16"/>
<text x="224.40" y="298.00" font-size="9.2" text-anchor="start" style="stroke-width:0;fill:#222;letter-spacing:-0.22px">An70-VWF</text>
<line x1="207.10" y1="308.60" x2="220.10" y2="308.60" stroke="#6aaade" stroke-width="1.3"/>
<circle cx="213.6" cy="308.60" r="2.5" fill="#6aaade"/>
<text x="224.40" y="311.90" font-size="9.2" text-anchor="start" style="stroke-width:0;fill:#222;letter-spacing:-0.22px">An88-VWF</text>
</svg>
<div class="fr"></div>
</body></html>
